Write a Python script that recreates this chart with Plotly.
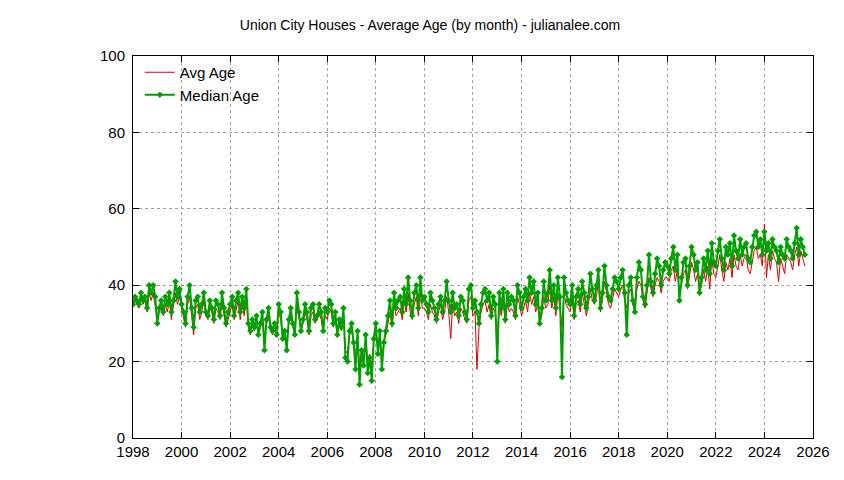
import plotly.graph_objects as go

years = list(range(1998, 2026))

median_age = [
    35, 37, 36, 35, 38, 36, 37, 34, 40, 38, 40, 37,
    30, 34, 36, 33, 37, 35, 38, 33, 36, 41, 37, 39,
    35, 33, 30, 37, 40, 34, 29, 36, 37, 33, 35, 38,
    33, 32, 36, 34, 31, 36, 35, 32, 38, 34, 30, 33,
    35, 37, 32, 36, 38, 33, 37, 34, 39, 30, 28, 31,
    29, 32, 27, 30, 33, 23, 31, 34, 29, 28, 30, 27,
    35, 33, 26, 28, 23, 31, 34, 30, 27, 38, 33, 28,
    31, 35, 33, 28, 34, 35, 31, 32, 35, 33, 28, 34,
    33, 36, 35, 30, 33, 27, 31, 29, 34, 21, 20, 28,
    30, 25, 18, 28, 14, 23, 19, 27, 17, 21, 15, 26,
    30, 22, 28, 18, 25, 28, 32, 36, 30, 38, 34, 36,
    37, 33, 39, 35, 42, 36, 32, 38, 40, 34, 42, 36,
    37, 35, 33, 38, 36, 34, 31, 35, 37, 33, 36, 41,
    36, 33, 38, 34, 35, 32, 37, 36, 33, 31, 39, 40,
    34, 36, 33, 30, 35, 38, 39, 36, 38, 32, 37, 35,
    20, 38, 34, 39, 31, 38, 35, 37, 36, 32, 40, 38,
    34, 37, 39, 36, 42, 38, 41, 35, 38, 30, 34, 41,
    36, 38, 44, 36, 40, 34, 42, 37, 16, 42, 38, 36,
    35, 40, 32, 37, 39, 35, 41, 38, 34, 37, 43, 39,
    36, 40, 44, 34, 38, 45, 40, 37, 36, 39, 42, 41,
    39, 42, 44, 38, 27, 40, 42, 36, 33, 42, 46, 44,
    37, 35, 40, 48, 41, 38, 43, 47, 45, 40, 44, 46,
    45, 43, 47, 50, 44, 48, 36, 42, 46, 47, 40, 45,
    50, 48, 44, 46, 38, 42, 47, 44, 49, 43, 51, 46,
    45, 49, 52, 47, 44, 50, 48, 51, 45, 53, 49, 47,
    52, 48, 50, 51, 47, 46, 50, 53, 54, 50, 52, 48,
    54, 49, 51, 47, 52, 50, 49, 46, 50, 48, 47, 52,
    50, 49, 47, 51, 55, 48, 52, 50, 48,
]

avg_age = [
    35, 36, 35, 34, 37, 35, 36, 33, 38, 36, 38, 35,
    31, 33, 34, 32, 35, 33, 36, 31, 34, 38, 35, 37,
    34, 31, 29, 35, 37, 32, 27, 34, 35, 31, 33, 36,
    32, 31, 34, 33, 30, 34, 33, 31, 36, 32, 29, 31,
    33, 35, 31, 34, 36, 31, 35, 32, 37, 29, 27, 30,
    28, 31, 27, 29, 31, 25, 30, 32, 28, 27, 29, 27,
    33, 31, 26, 27, 25, 30, 32, 29, 27, 35, 31, 28,
    30, 33, 31, 27, 32, 33, 30, 31, 33, 31, 28, 32,
    31, 34, 33, 29, 31, 27, 30, 28, 32, 23, 22, 27,
    28, 25, 21, 27, 19, 23, 21, 26, 20, 22, 19, 25,
    28, 23, 27, 21, 25, 27, 30, 33, 29, 35, 32, 33,
    34, 31, 36, 33, 38, 33, 31, 35, 37, 32, 38, 34,
    34, 33, 31, 35, 33, 32, 30, 33, 35, 31, 33, 37,
    33, 26, 35, 32, 33, 30, 34, 33, 31, 30, 36, 37,
    32, 33, 18, 29, 33, 35, 36, 33, 35, 31, 34, 33,
    27, 35, 32, 36, 30, 35, 33, 34, 33, 31, 37, 35,
    32, 34, 36, 33, 38, 35, 37, 33, 35, 30, 32, 37,
    34, 35, 40, 34, 37, 32, 38, 34, 29, 38, 35, 34,
    33, 37, 31, 35, 36, 33, 38, 35, 32, 35, 39, 36,
    35, 37, 41, 33, 36, 41, 38, 35, 34, 37, 39, 38,
    37, 39, 40, 36, 34, 38, 39, 35, 33, 39, 41, 40,
    36, 34, 38, 42, 39, 37, 40, 42, 41, 38, 41, 42,
    42, 41, 44, 45, 41, 44, 38, 40, 43, 44, 39, 42,
    46, 44, 41, 43, 38, 40, 44, 41, 45, 39, 47, 43,
    42, 45, 48, 44, 41, 46, 44, 47, 42, 48, 45, 44,
    48, 45, 47, 48, 44, 43, 46, 49, 50, 47, 48, 45,
    56, 42, 48, 44, 49, 47, 46, 41, 47, 45, 43, 48,
    47, 46, 44, 48, 50, 45, 49, 47, 45,
]

dates = [f"{1998 + i // 12}-{i % 12 + 1:02d}-01" for i in range(len(median_age))]

fig = go.Figure()
fig.add_trace(go.Scatter(
    x=dates, y=avg_age, mode="lines", name="Avg Age",
    line=dict(color="#dd0000", width=1),
))
fig.add_trace(go.Scatter(
    x=dates, y=median_age, mode="lines+markers", name="Median Age",
    line=dict(color="#00a000", width=2),
    marker=dict(color="#00a000", size=5, symbol="diamond"),
))

axis_common = dict(
    showgrid=True, gridcolor="#a0a0a0", griddash="dot", gridwidth=1,
    showline=True, linecolor="black", linewidth=1, mirror="ticks",
    ticks="inside", ticklen=6, tickcolor="black", zeroline=False,
    tickfont=dict(size=15, color="black"), automargin=False,
)
fig.update_xaxes(
    type="date", range=["1998-01-01", "2026-01-01"],
    tickvals=[f"{y}-01-01" for y in range(1998, 2027, 2)],
    ticktext=[str(y) for y in range(1998, 2027, 2)],
    **axis_common,
)
fig.update_yaxes(range=[0, 100], dtick=20, ticklabelstandoff=4, **axis_common)

fig.update_layout(
    width=844, height=480,
    title=dict(text="Union City Houses - Average Age (by month) - julianalee.com",
               x=0.5, xanchor="center", y=0.975, font=dict(size=14, color="black")),
    font=dict(family="Liberation Sans, Arial, sans-serif", color="black"),
    plot_bgcolor="white", paper_bgcolor="white",
    margin=dict(l=125, r=39, t=48, b=50, autoexpand=False),
    legend=dict(x=0.01, y=1.0, xanchor="left", yanchor="top",
                bgcolor="rgba(0,0,0,0)", font=dict(size=15)),
    showlegend=True,
)

fig.write_html("out.html")
